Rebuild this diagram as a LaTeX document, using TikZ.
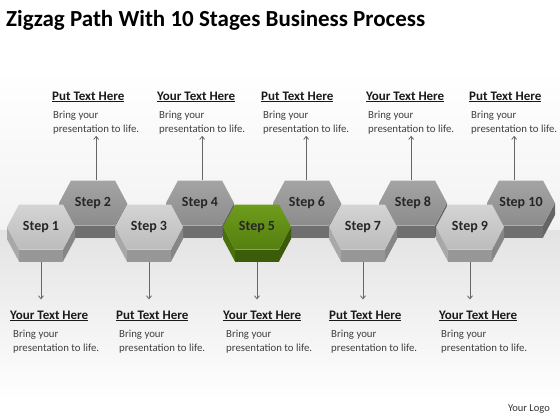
\documentclass[tikz,border=0pt]{standalone}
\usepackage{fontspec}
\setmainfont{Carlito}
\usetikzlibrary{positioning, arrows.meta}

\definecolor{lotop}{HTML}{D4D4D4}
\definecolor{loface}{HTML}{BCBCBC}
\definecolor{loside}{HTML}{A8A8A8}
\definecolor{lobot}{HTML}{979797}
\definecolor{hitop}{HTML}{A4A4A4}
\definecolor{hiface}{HTML}{8C8C8C}
\definecolor{hiside}{HTML}{7E7E7E}
\definecolor{hibot}{HTML}{6F6F6F}
\definecolor{grtop}{HTML}{6E9C1C}
\definecolor{grface}{HTML}{557F10}
\definecolor{grside}{HTML}{4A700C}
\definecolor{grbot}{HTML}{3B5C08}

\begin{document}
\begin{tikzpicture}[x=1pt, y=-1pt,
   hexagon/.pic={
      \fill[#1side] (-34,0) -- (-34,12) -- (-22,34.5) -- (-22,22.5) -- cycle;
      \fill[#1bot] (-22,22.5) -- (-22,34.5) -- (22,34.5) -- (22,22.5) -- cycle;
      \fill[#1side!80!black] (22,22.5) -- (22,34.5) -- (34,12) -- (34,0) -- cycle;
      \shade[top color=#1top, bottom color=#1face] (-34,0) -- (-22,-22.5) -- (22,-22.5) -- (34,0) -- (22,22.5) -- (-22,22.5) -- cycle;
   },
   stage/.style={minimum width=68pt, minimum height=45pt, inner sep=0pt, text=black!85, font=\bfseries\fontsize{14}{15}\selectfont},
   heading/.style={anchor=base west, inner sep=0pt, text=black!90, font=\bfseries\fontsize{13}{15}\selectfont},
   body/.style={align=left, inner sep=0pt, text=black!75, font=\fontsize{10.8}{14}\selectfont},
   pointer/.style={draw=black!60, line width=0.8pt, -{Straight Barb[length=3pt,width=5pt]}}]

   % Background
   \fill[white] (0,0) rectangle (560,420);
   \shade[top color=white, bottom color=black!5] (0,70) rectangle (560,230);
   \shade[top color=black!11, bottom color=white] (0,230) rectangle (560,400);
   \useasboundingbox (0,0) rectangle (560,420);

   \node[anchor=base west, inner sep=0pt, font=\bfseries\fontsize{23}{26}\selectfont] (title) at (6,27) {Zigzag Path With 10 Stages Business Process};

   % Upper row of steps
   \pic at (93,203) {hexagon=hi};
   \node[stage] (s2) at (93,203) {Step 2};
   \pic at (200,203) {hexagon=hi};
   \node[stage] (s4) at (200,203) {Step 4};
   \pic at (307,203) {hexagon=hi};
   \node[stage] (s6) at (307,203) {Step 6};
   \pic at (413,203) {hexagon=hi};
   \node[stage] (s8) at (413,203) {Step 8};
   \pic at (521,203) {hexagon=hi};
   \node[stage] (s10) at (521,203) {Step 10};

   % Lower row of steps
   \pic at (41,227) {hexagon=lo};
   \node[stage] (s1) at (41,227) {Step 1};
   \pic at (149,227) {hexagon=lo};
   \node[stage] (s3) at (149,227) {Step 3};
   \pic at (257,227) {hexagon=gr};
   \node[stage] (s5) at (257,227) {Step 5};
   \pic at (363,227) {hexagon=lo};
   \node[stage] (s7) at (363,227) {Step 7};
   \pic at (470,227) {hexagon=lo};
   \node[stage] (s9) at (470,227) {Step 9};

   % Notes above
   \node[heading] (h2) at (52,100) {\underline{Put Text Here}};
   \node[body, below right=9pt and 1pt of h2.south west] (b2) {Bring your\\presentation to life.};
   \node[heading] (h4) at (157,100) {\underline{Your Text Here}};
   \node[body, below right=9pt and 2pt of h4.south west] (b4) {Bring your\\presentation to life.};
   \node[heading] (h6) at (261,100) {\underline{Put Text Here}};
   \node[body, below right=9pt and 2pt of h6.south west] (b6) {Bring your\\presentation to life.};
   \node[heading] (h8) at (366,100) {\underline{Your Text Here}};
   \node[body, below right=9pt and 2pt of h8.south west] (b8) {Bring your\\presentation to life.};
   \node[heading] (h10) at (469,100) {\underline{Put Text Here}};
   \node[body, below right=9pt and 2pt of h10.south west] (b10) {Bring your\\presentation to life.};

   % Notes below
   \node[heading] (h1) at (10,319) {\underline{Your Text Here}};
   \node[body, below right=9pt and 3pt of h1.south west] (b1) {Bring your\\presentation to life.};
   \node[heading] (h3) at (116,319) {\underline{Put Text Here}};
   \node[body, below right=9pt and 3pt of h3.south west] (b3) {Bring your\\presentation to life.};
   \node[heading] (h5) at (223,319) {\underline{Your Text Here}};
   \node[body, below right=9pt and 3pt of h5.south west] (b5) {Bring your\\presentation to life.};
   \node[heading] (h7) at (329,319) {\underline{Put Text Here}};
   \node[body, below right=9pt and 2pt of h7.south west] (b7) {Bring your\\presentation to life.};
   \node[heading] (h9) at (439,319) {\underline{Your Text Here}};
   \node[body, below right=9pt and 2pt of h9.south west] (b9) {Bring your\\presentation to life.};

   \node[anchor=base east, inner sep=0pt, text=black!80, font=\fontsize{10.5}{12}\selectfont] (logo) at (550,411) {Your Logo};

   % Pointers
   \draw[pointer, shorten >=1pt] (s2.north -| b2.south) -- (b2.south);
   \draw[pointer, shorten >=1pt] (s4.north -| b4.south) -- (b4.south);
   \draw[pointer, shorten >=1pt] (s6.north -| b6.south) -- (b6.south);
   \draw[pointer, shorten >=1pt] (s8.north -| b8.south) -- (b8.south);
   \draw[pointer, shorten >=1pt] (s10.north -| b10.south) -- (b10.south);
   \draw[pointer, shorten >=11pt] ([yshift=-12pt]s1.south) -- (s1.south |- h1.north);
   \draw[pointer, shorten >=11pt] ([yshift=-12pt]s3.south) -- (s3.south |- h3.north);
   \draw[pointer, shorten >=11pt] ([yshift=-12pt]s5.south) -- (s5.south |- h5.north);
   \draw[pointer, shorten >=11pt] ([yshift=-12pt]s7.south) -- (s7.south |- h7.north);
   \draw[pointer, shorten >=11pt] ([yshift=-12pt]s9.south) -- (s9.south |- h9.north);
\end{tikzpicture}
\end{document}
